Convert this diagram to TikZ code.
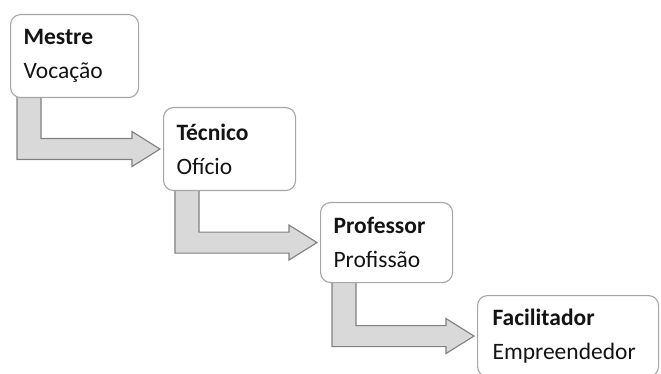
\documentclass[tikz,border=0pt]{standalone}
\usepackage{fontspec}
\setmainfont{Carlito}
\usepackage{tikz}
\usetikzlibrary{calc,backgrounds}
\definecolor{boxline}{HTML}{A6A6A6}
\definecolor{arrowfill}{HTML}{D9D9D9}
\definecolor{arrowline}{HTML}{808080}
\definecolor{textdark}{HTML}{141414}
% bent block arrow: from, to, offset of the stem
\newcommand{\bentarrow}[3]{%
  \path[flowarrow] let \p1=(#1.south west), \p2=(#2.west) in
    (\x1+#3, \y1+6pt) -- (\x1+#3, \y2-10.5pt) -- (\x2-31pt, \y2-10.5pt)
    -- (\x2-31pt, \y2-17.5pt) -- (\x2-3pt, \y2) -- (\x2-31pt, \y2+17.5pt)
    -- (\x2-31pt, \y2+10.5pt) -- (\x1+#3+24pt, \y2+10.5pt)
    -- (\x1+#3+24pt, \y1+6pt) -- cycle;}

\begin{document}
\begin{tikzpicture}[
    x=1pt, y=-1pt,
    stagebox/.style={draw=boxline, line width=1.1pt, fill=white, rounded corners=10pt,
      anchor=north west, align=left, inner xsep=13pt, inner ysep=4pt,
      text=textdark, font=\fontsize{23.5}{34}\selectfont},
    flowarrow/.style={draw=arrowline, line width=1.1pt, fill=arrowfill}
]
\useasboundingbox (0,0) rectangle (661,374);

% etapas
\node[stagebox, text width=102pt, minimum height=83pt] (mestre) at (10,14)
  {\textbf{Mestre}\\Vocação};
\node[stagebox, text width=106pt, minimum height=83pt] (tecnico) at (163,107)
  {\textbf{Técnico}\\Ofício};
\node[stagebox, text width=106pt, minimum height=80pt] (professor) at (320,202)
  {\textbf{Professor}\\Profissão};
\node[stagebox, text width=151pt, minimum height=81pt, inner xsep=15pt] (facilitador) at (477,295)
  {\textbf{Facilitador}\\Empreendedor};

% setas
\begin{scope}[on background layer]
\bentarrow{mestre}{tecnico}{7pt}
\bentarrow{tecnico}{professor}{12pt}
\bentarrow{professor}{facilitador}{12pt}
\end{scope}

\end{tikzpicture}
\end{document}
